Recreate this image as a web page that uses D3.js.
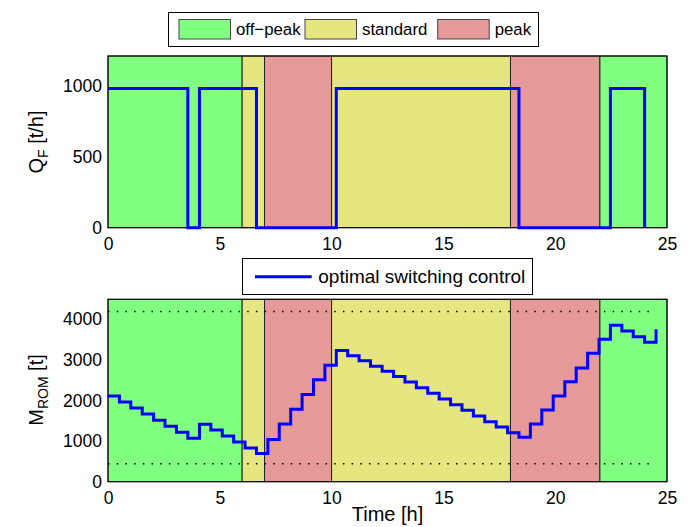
<!DOCTYPE html>
<html>
<head>
<meta charset="utf-8">
<script src="https://cdn.jsdelivr.net/npm/d3@7"></script>
<style>
    body { margin: 0; background: #fff; }
    svg { font-family: "Liberation Sans", Arial, sans-serif; }
</style>
</head>
<body>
<div class="Chart"></div>
<script>
// sample times [h] of the optimiser grid
const times = [0, 0.51, 1.02, 1.53, 2.04, 2.55, 3.06, 3.57, 4.09, 4.60,
    5.11, 5.62, 6.13, 6.64, 7.15, 7.66, 8.17, 8.68, 9.19, 9.70,
    10.21, 10.72, 11.23, 11.74, 12.26, 12.77, 13.28, 13.79, 14.30, 14.81,
    15.32, 15.83, 16.34, 16.85, 17.36, 17.87, 18.38, 18.89, 19.40, 19.91,
    20.43, 20.94, 21.45, 21.96, 22.47, 22.98, 23.49, 24.00, 24.51];

// feed rate Q_F [t/h], one value per interval (last one at t = 24)
const feedRate = [985, 985, 985, 985, 985, 985, 985, 0, 985, 985,
    985, 985, 985, 0, 0, 0, 0, 0, 0, 0,
    985, 985, 985, 985, 985, 985, 985, 985, 985, 985,
    985, 985, 985, 985, 985, 985, 0, 0, 0, 0,
    0, 0, 0, 0, 985, 985, 985, 0];

// stockpile mass M_ROM [t]
const stockMass = [2110, 1960, 1815, 1667, 1515, 1368, 1215, 1072, 1414, 1270,
    1126, 975, 830, 695, 1040, 1418, 1783, 2148, 2508, 2867,
    3227, 3100, 2977, 2842, 2718, 2588, 2456, 2315, 2177, 2037,
    1897, 1759, 1618, 1478, 1347, 1207, 1092, 1421, 1766, 2111,
    2463, 2800, 3162, 3507, 3852, 3712, 3571, 3433, 3753];

const massLimits = [440, 4190];

// tariff periods
const tariffStart = [0, 6, 7, 10, 18, 22];
const tariffEnd = [6, 7, 10, 18, 22, 25];
const tariffType = ['off-peak', 'standard', 'peak', 'standard', 'peak', 'off-peak'];

const legendNames = ['off-peak', 'standard', 'peak'];
const legendLabels = ['off\u2212peak', 'standard', 'peak'];

const xTicks = [0, 5, 10, 15, 20, 25];
const feedTicks = [0, 500, 1000];
const massTicks = [0, 1000, 2000, 3000, 4000];

const tariffColor = {
    'off-peak': '#80ff80',
    'standard': '#e6e680',
    'peak': '#e69999'
};

const width = 691, height = 527;
const left = 108, right = 667;

const svg = d3.select('.Chart')
    .append('svg')
    .attr('width', width)
    .attr('height', height);

const x = d3.scaleLinear()
    .domain([0, 25])
    .range([left, right]);

const periods = tariffStart.map((s, i) => ({start: s, end: tariffEnd[i], type: tariffType[i]}));

function drawPanel(y, ticks) {
    const [y0, y1] = y.range();
    const g = svg.append('g');

    g.selectAll('rect.tariff')
        .data(periods)
        .enter().append('rect')
        .attr('class', 'tariff')
        .attr('x', d => x(d.start))
        .attr('y', y1)
        .attr('width', d => x(d.end) - x(d.start))
        .attr('height', y0 - y1)
        .attr('fill', d => tariffColor[d.type])
        .attr('stroke', '#222')
        .attr('stroke-width', 1);

    g.append('rect')
        .attr('x', left)
        .attr('y', y1)
        .attr('width', right - left)
        .attr('height', y0 - y1)
        .attr('fill', 'none')
        .attr('stroke', '#000')
        .attr('stroke-width', 1);

    const xAxis = d3.axisBottom(x).tickValues(xTicks).tickSize(0).tickPadding(10)
        .tickFormat(d3.format('d'));
    g.append('g')
        .attr('transform', 'translate(0,' + y0 + ')')
        .call(xAxis)
        .call(a => a.select('.domain').remove());

    const yAxis = d3.axisLeft(y).tickValues(ticks).tickSize(0).tickPadding(6)
        .tickFormat(d3.format('d'));
    g.append('g')
        .attr('transform', 'translate(' + left + ',0)')
        .call(yAxis)
        .call(a => a.select('.domain').remove());

    g.selectAll('.tick text')
        .attr('font-size', 17.5)
        .attr('font-family', '"Liberation Sans", Arial, sans-serif')
        .attr('fill', '#000');
    return g;
}

// top panel: feed rate
const yFeed = d3.scaleLinear()
    .domain([0, 1215])
    .range([227.7, 56]);

const feedPanel = drawPanel(yFeed, feedTicks);

const stairs = d3.line().curve(d3.curveStepAfter);

feedPanel.append('path')
    .attr('d', stairs(feedRate.map((q, i) => [x(times[i]), yFeed(q)])))
    .attr('fill', 'none')
    .attr('stroke', '#0000ff')
    .attr('stroke-width', 3);

// bottom panel: stockpile mass
const yMass = d3.scaleLinear()
    .domain([0, 4490])
    .range([481.7, 299.3]);

const massPanel = drawPanel(yMass, massTicks);

massPanel.selectAll('line.limit')
    .data(massLimits)
    .enter().append('line')
    .attr('class', 'limit')
    .attr('x1', x(times[0]))
    .attr('x2', x(times[times.length - 1]))
    .attr('y1', d => yMass(d))
    .attr('y2', d => yMass(d))
    .attr('stroke', '#000')
    .attr('stroke-width', 1.5)
    .attr('stroke-dasharray', '1.5,7.2');

massPanel.append('path')
    .attr('d', stairs(stockMass.map((m, i) => [x(times[i]), yMass(m)])))
    .attr('fill', 'none')
    .attr('stroke', '#0000ff')
    .attr('stroke-width', 3);

// axis titles
svg.append('text')
    .attr('x', (left + right) / 2)
    .attr('y', 521)
    .attr('text-anchor', 'middle')
    .attr('font-size', 20)
    .text('Time [h]');

function yTitle(cy, main, sub, rest) {
    const t = svg.append('text')
        .attr('transform', 'translate(43,' + cy + ') rotate(-90)')
        .attr('text-anchor', 'middle')
        .attr('font-size', 20);
    t.append('tspan').text(main);
    t.append('tspan').attr('font-size', 14).attr('dy', 5).text(sub);
    t.append('tspan').attr('dy', -5).text(rest);
}
yTitle(142, 'Q', 'F', ' [t/h]');
yTitle(390, 'M', 'ROM', ' [t]');

// top legend: tariff colours
const legTop = svg.append('g');
legTop.append('rect')
    .attr('x', 168.5).attr('y', 12.5)
    .attr('width', 370).attr('height', 34)
    .attr('fill', '#fff').attr('stroke', '#000');

const swatchX = [179, 305, 437.7];
legTop.selectAll('rect.swatch')
    .data(legendNames)
    .enter().append('rect')
    .attr('class', 'swatch')
    .attr('x', (d, i) => swatchX[i])
    .attr('y', 19.5)
    .attr('width', 51.5)
    .attr('height', 19.5)
    .attr('fill', d => tariffColor[d])
    .attr('stroke', '#444');

legTop.selectAll('text')
    .data(legendLabels)
    .enter().append('text')
    .attr('x', (d, i) => swatchX[i] + 57)
    .attr('y', 35)
    .attr('font-size', 16.8)
    .text(d => d);

// bottom legend: control trajectory
const legBot = svg.append('g');
legBot.append('rect')
    .attr('x', 242.5).attr('y', 258.5)
    .attr('width', 290).attr('height', 36)
    .attr('fill', '#fff').attr('stroke', '#000');
legBot.append('line')
    .attr('x1', 255).attr('x2', 311.7)
    .attr('y1', 276.7).attr('y2', 276.7)
    .attr('stroke', '#0000ff').attr('stroke-width', 3);
legBot.append('text')
    .attr('x', 318.3).attr('y', 283)
    .attr('font-size', 19)
    .text('optimal switching control');
</script>
</body>
</html>
